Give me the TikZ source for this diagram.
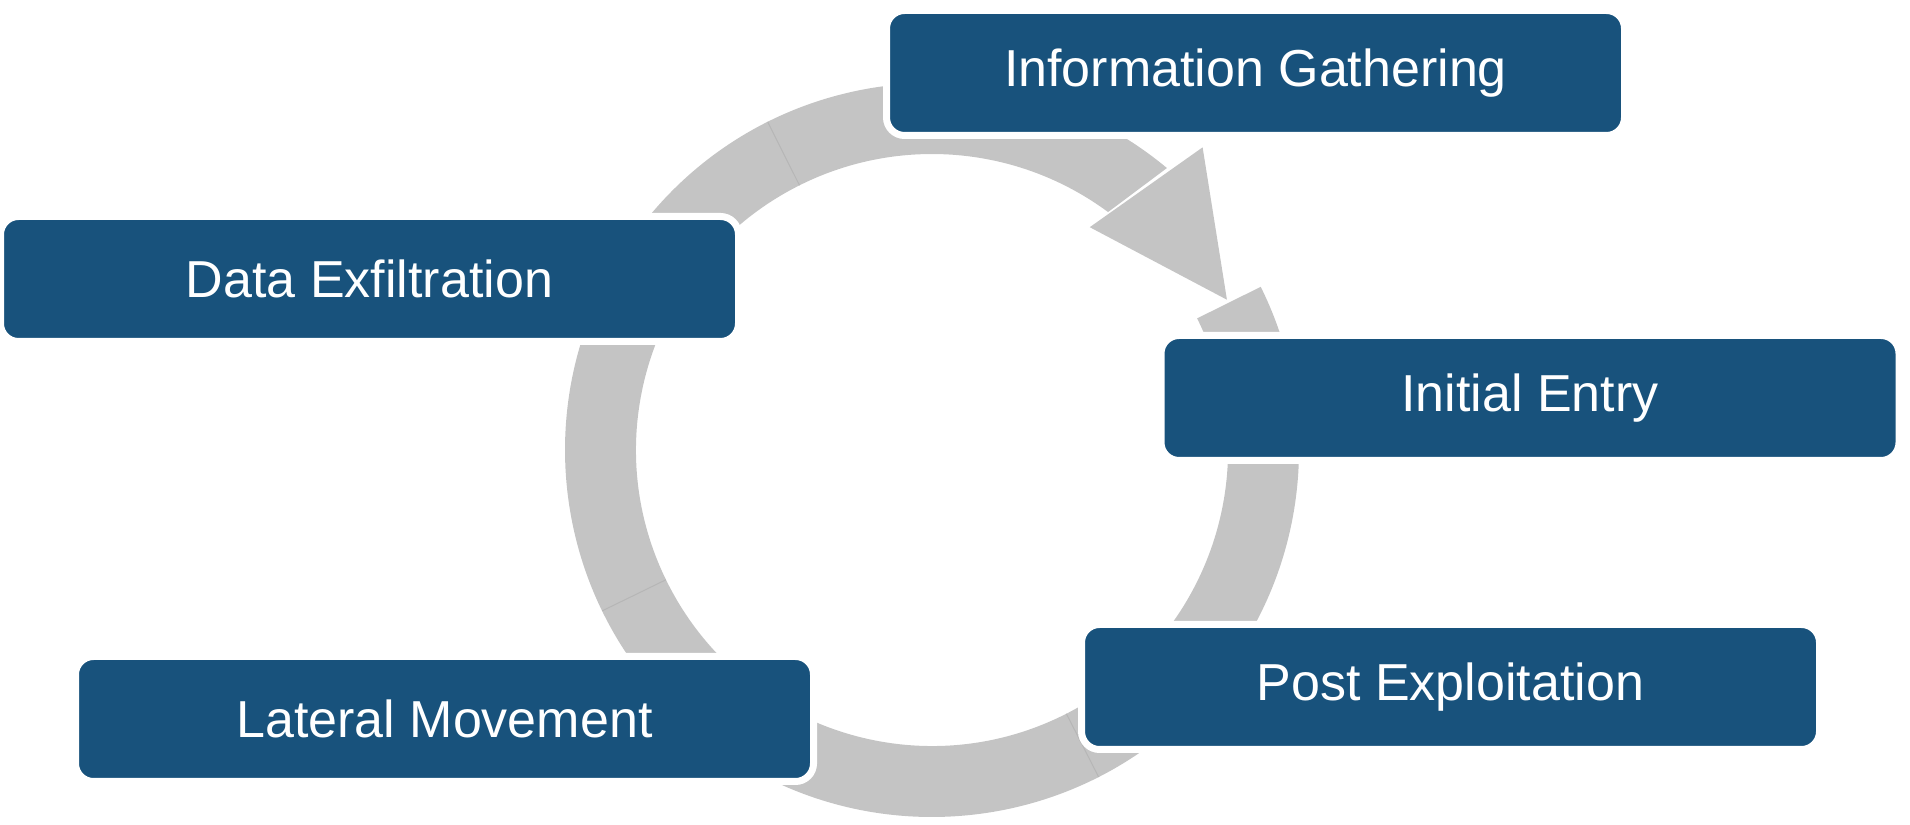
\documentclass[tikz,border=0pt]{standalone}
\usepackage{fontspec}
\setmainfont{Liberation Sans}
\usetikzlibrary{calc,positioning}

\definecolor{stepblue}{RGB}{24,82,124}
\definecolor{ringgray}{RGB}{196,196,196}
\definecolor{ringedge}{RGB}{182,182,182}

\begin{document}
\begin{tikzpicture}[
    x=0.5pt,y=0.5pt,
    stepbox/.style={draw=white,line width=3.5pt,fill=stepblue,rounded corners=9pt,
      minimum width=369pt,minimum height=62.5pt,inner sep=0pt,
      text=white,font=\fontsize{26}{31}\selectfont},
    ringfill/.style={fill=ringgray},
    ringline/.style={draw=ringedge,line width=0.5pt},
  ]

  \useasboundingbox (0,0) rectangle (1910,824);

  % ring

  \coordinate (c) at (932,374);

  \fill[ringfill] ($(c)+(50.2:367)$) arc[start angle=50.2,end angle=386.4,radius=367]
    -- ($(c)+(26.4:296)$) arc[start angle=386.4,end angle=53.5,radius=296] -- cycle;

  \foreach \a in {116.6,206,297}
    \draw[ringline] ($(c)+(\a:296)$) -- ($(c)+(\a:367)$);

  % arrow head

  \coordinate (headout) at ($(c)+(48.2:406)$);
  \coordinate (headtip) at ($(c)+(27:331)$);
  \coordinate (headin) at ($(c)+(54.7:273)$);

  \fill[ringfill] (headout) -- (headtip) -- (headin) -- cycle;

  % steps

  \node (gather) at (1255.5,751) [stepbox] {Information Gathering};
  \node (entry) at (1530,426) [stepbox] {Initial Entry};
  \node (post) at (1450.5,137) [stepbox] {Post Exploitation};
  \node (lateral) at (444.5,105) [stepbox] {Lateral Movement};
  \node (exfil) at (369.5,545) [stepbox] {Data Exfiltration};

\end{tikzpicture}
\end{document}
